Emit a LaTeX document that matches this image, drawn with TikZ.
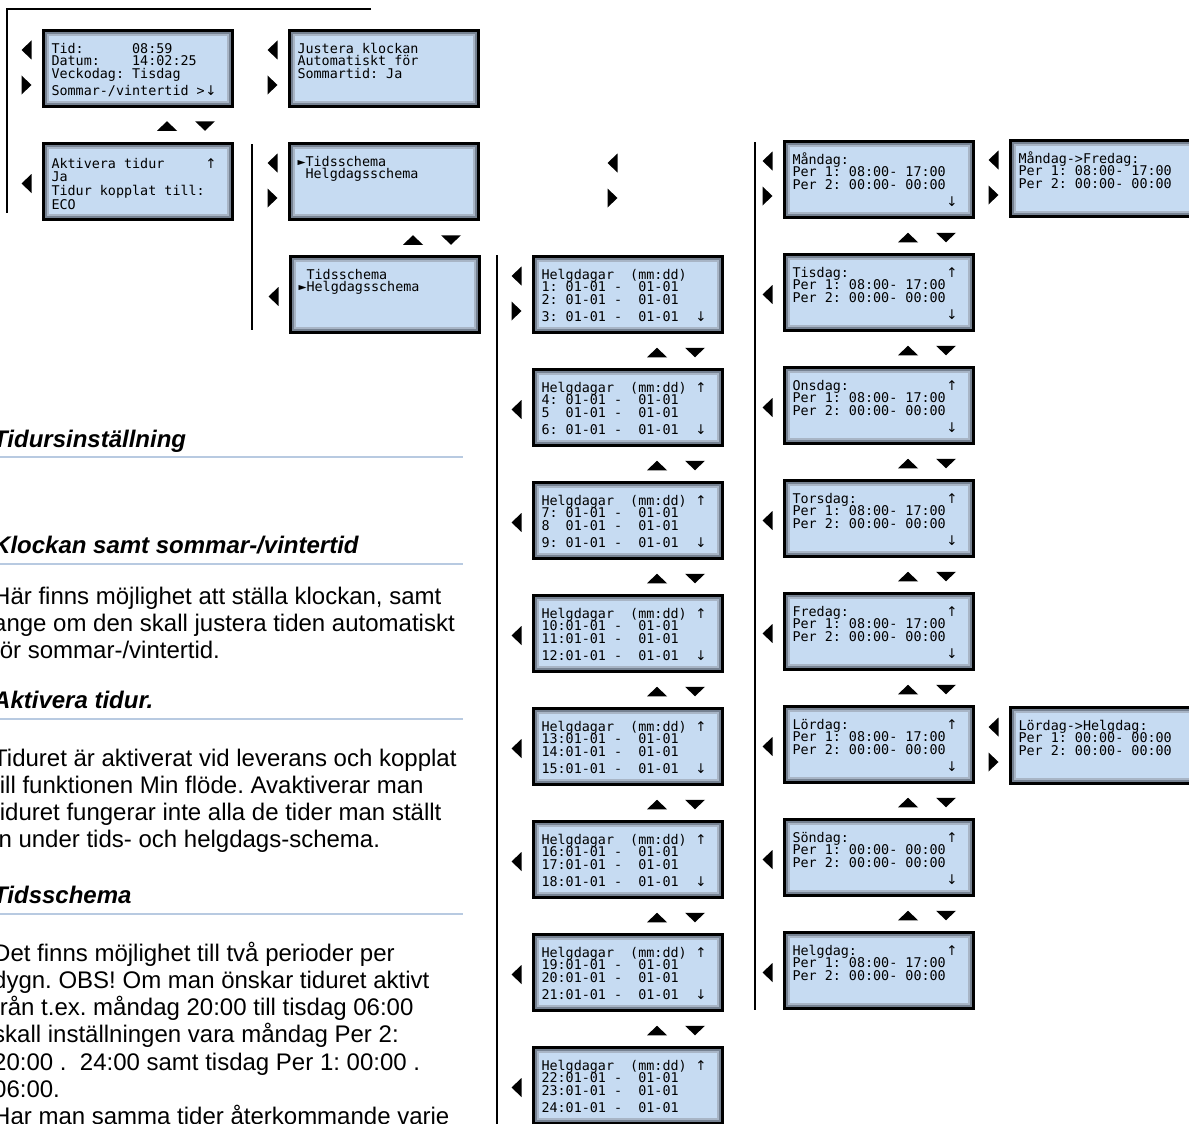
\documentclass[tikz,border=0pt]{standalone}
\usepackage{fontspec}
\setmainfont{Liberation Sans}
\newfontfamily\lcdfont{DejaVu Sans Mono}
\newfontfamily\lcdarrowfont{DejaVu Sans}
\usetikzlibrary{calc}
\definecolor{lcdfill}{RGB}{198,219,242}
\definecolor{lcdbevel}{RGB}{118,130,146}
\definecolor{lcdhi}{RGB}{168,181,198}
\definecolor{rulecol}{RGB}{184,202,225}
\tikzset{
  lcdbox/.style={shape=rectangle, draw=black, line width=3pt, fill=lcdbevel,
    minimum width=189pt, minimum height=76pt, inner sep=0pt, outer sep=0pt, anchor=north west},
  lcdtxt/.style={inner sep=0pt, outer sep=0pt, anchor=base west,
    font=\lcdfont\fontsize{13.4}{13.4}\selectfont},
  lcdarr/.style={inner sep=0pt, outer sep=0pt, anchor=base,
    font=\lcdarrowfont\fontsize{13.4}{13.4}\selectfont},
  navtri/.style={fill=black, draw=none},
  bracket/.style={draw=black, line width=1.5pt},
  heading/.style={anchor=base west, inner sep=0pt,
    font=\fontsize{24}{24}\selectfont\bfseries\itshape},
  body/.style={anchor=base west, inner sep=0pt,
    font=\fontsize{24}{24}\selectfont\frenchspacing},
  rulestyle/.style={draw=rulecol, line width=2pt}
}
\newcommand\lcdframe[3]{%
  \node[lcdbox] (#1) at (#2+1.5,#3+1.5) {};
  \fill[lcdhi] ($(#1.north west)+(3.5,3.5)$) rectangle ($(#1.south east)+(-3.5,-3.5)$);
  \fill[lcdfill] ($(#1.north west)+(5.5,5.5)$) rectangle ($(#1.south east)+(-5.5,-5.5)$);
}
\newcommand\lcdline[5]{\node[lcdtxt] (#1) at (#2+9.5,#3+#4) {#5};}
\newcommand\lcd[7]{%
  \lcdframe{#1}{#2}{#3}%
  \lcdline{#1-a}{#2}{#3}{24.4}{#4}%
  \lcdline{#1-b}{#2}{#3}{36.9}{#5}%
  \lcdline{#1-c}{#2}{#3}{49.4}{#6}%
  \lcdline{#1-d}{#2}{#3}{66.9}{#7}}
\newcommand\arrup[3]{\node[lcdarr] (#1-up) at (#2+169,#3+24.4) {↑};}
\newcommand\arrdn[3]{\node[lcdarr] (#1-dn) at (#2+169,#3+66.9) {↓};}
\newcommand\navL[2]{\fill[navtri] (#1-10.5,#2-9.5) -- (#1-10.5,#2+9.5) -- (#1-20.5,#2) -- cycle;}
\newcommand\navR[2]{\fill[navtri] (#1-20.5,#2-9.5) -- (#1-20.5,#2+9.5) -- (#1-10.5,#2) -- cycle;}
\newcommand\navpair[2]{\navL{#1}{#2+21}\navR{#1}{#2+56}}
\newcommand\navsingle[2]{\navL{#1}{#2+41.5}}
\newcommand\navUD[2]{%
  \fill[navtri] (#1+115,#2+4.75) -- (#1+135,#2+4.75) -- (#1+125,#2-4.75) -- cycle;
  \fill[navtri] (#1+153,#2-4.75) -- (#1+173,#2-4.75) -- (#1+163,#2+4.75) -- cycle;}
\newcommand\hdd{01-01~-~~01-01}
\newcommand\hdhead{Helgdagar~~(mm:dd)}
\begin{document}
\begin{tikzpicture}[x=1pt,y=-1pt]
\useasboundingbox (0,0) rectangle (1189,1124);
\clip (0,0) rectangle (1189,1124);
\fill[white] (0,0) rectangle (1189,1124);

% bracket lines
\coordinate (ba) at (371,9); \coordinate (bb) at (7,9); \coordinate (bc) at (7,213);
\draw[bracket] (ba) -- (bb) -- (bc);
\coordinate (ca) at (252,144); \coordinate (cb) at (252,330);
\draw[bracket] (ca) -- (cb);
\coordinate (da) at (497,255); \coordinate (db) at (497,1124);
\draw[bracket] (da) -- (db);
\coordinate (ea) at (755,142); \coordinate (eb) at (755,1010);
\draw[bracket] (ea) -- (eb);

% top-left screens
\lcd{tid}{42}{29}{Tid:~~~~~~08:59}{Datum:~~~~14:02:25}{Veckodag:~Tisdag}{Sommar-/vintertid~>}
\node[lcdarr] (tid-dn) at (42+169,29+66.9) {↓};
\navpair{42}{29}
\lcd{just}{288}{29}{Justera~klockan}{Automatiskt~för}{Sommartid:~Ja}{}
\navpair{288}{29}
\navUD{42}{126}
\lcdframe{akt}{42}{142}
\lcdline{akt-a}{42}{142}{26}{Aktivera~tidur}
\lcdline{akt-b}{42}{142}{39}{Ja}
\lcdline{akt-c}{42}{142}{53}{Tidur~kopplat~till:}
\lcdline{akt-d}{42}{142}{67}{ECO}
\node[lcdarr] (akt-up) at (42+169,142+26) {↑};
\navsingle{42}{142}
\lcd{m1}{288}{142}{►Tidsschema}{~Helgdagsschema}{}{}
\navpair{288}{142}
\navUD{288}{240}
\lcd{m2}{289}{255}{~Tidsschema}{►Helgdagsschema}{}{}
\navsingle{289}{255}

% loose arrows
\navpair{628}{142}

% holidays column
\lcd{h1}{532}{255}{\hdhead}{1:~\hdd}{2:~\hdd}{3:~\hdd}\arrdn{h1}{532}{255}
\navpair{532}{255}
\lcd{h2}{532}{368}{\hdhead}{4:~\hdd}{5~~\hdd}{6:~\hdd}\arrup{h2}{532}{368}\arrdn{h2}{532}{368}
\lcd{h3}{532}{481}{\hdhead}{7:~\hdd}{8~~\hdd}{9:~\hdd}\arrup{h3}{532}{481}\arrdn{h3}{532}{481}
\lcd{h4}{532}{594}{\hdhead}{10:\hdd}{11:\hdd}{12:\hdd}\arrup{h4}{532}{594}\arrdn{h4}{532}{594}
\lcd{h5}{532}{707}{\hdhead}{13:\hdd}{14:\hdd}{15:\hdd}\arrup{h5}{532}{707}\arrdn{h5}{532}{707}
\lcd{h6}{532}{820}{\hdhead}{16:\hdd}{17:\hdd}{18:\hdd}\arrup{h6}{532}{820}\arrdn{h6}{532}{820}
\lcd{h7}{532}{933}{\hdhead}{19:\hdd}{20:\hdd}{21:\hdd}\arrup{h7}{532}{933}\arrdn{h7}{532}{933}
\lcd{h8}{532}{1046}{\hdhead}{22:\hdd}{23:\hdd}{24:\hdd}\arrup{h8}{532}{1046}
\foreach \k in {1,...,7}{\navsingle{532}{255+113*\k}}
\foreach \k in {0,...,6}{\navUD{532}{352.5+113*\k}}

% days column
\lcd{d1}{783}{140}{Måndag:}{Per~1:~08:00-~17:00}{Per~2:~00:00-~00:00}{}\arrdn{d1}{783}{140}
\navpair{783}{140}
\lcd{d2}{783}{253}{Tisdag:}{Per~1:~08:00-~17:00}{Per~2:~00:00-~00:00}{}\arrup{d2}{783}{253}\arrdn{d2}{783}{253}
\lcd{d3}{783}{366}{Onsdag:}{Per~1:~08:00-~17:00}{Per~2:~00:00-~00:00}{}\arrup{d3}{783}{366}\arrdn{d3}{783}{366}
\lcd{d4}{783}{479}{Torsdag:}{Per~1:~08:00-~17:00}{Per~2:~00:00-~00:00}{}\arrup{d4}{783}{479}\arrdn{d4}{783}{479}
\lcd{d5}{783}{592}{Fredag:}{Per~1:~08:00-~17:00}{Per~2:~00:00-~00:00}{}\arrup{d5}{783}{592}\arrdn{d5}{783}{592}
\lcd{d6}{783}{705}{Lördag:}{Per~1:~08:00-~17:00}{Per~2:~00:00-~00:00}{}\arrup{d6}{783}{705}\arrdn{d6}{783}{705}
\lcd{d7}{783}{818}{Söndag:}{Per~1:~00:00-~00:00}{Per~2:~00:00-~00:00}{}\arrup{d7}{783}{818}\arrdn{d7}{783}{818}
\lcd{d8}{783}{931}{Helgdag:}{Per~1:~08:00-~17:00}{Per~2:~00:00-~00:00}{}\arrup{d8}{783}{931}
\foreach \k in {1,...,7}{\navsingle{783}{140+113*\k}}
\foreach \k in {0,...,6}{\navUD{783}{237.5+113*\k}}

% right column
\lcd{mf}{1009}{139}{Måndag->Fredag:}{Per~1:~08:00-~17:00}{Per~2:~00:00-~00:00}{}
\navpair{1009}{139}
\lcd{lh}{1009}{706}{Lördag->Helgdag:}{Per~1:~00:00-~00:00}{Per~2:~00:00-~00:00}{}
\navpair{1009}{706}

% text column
\node[heading] (t1) at (-7,447) {Tidursinställning};
\draw[rulestyle] (-7,457) -- (463,457);
\node[heading] (t2) at (-7,553) {Klockan samt sommar-/vintertid};
\draw[rulestyle] (-7,564) -- (463,564);
\node[body] (p1a) at (-7,604) {Här finns möjlighet att ställa klockan, samt};
\node[body] (p1b) at (-7,631.3) {ange om den skall justera tiden automatiskt};
\node[body] (p1c) at (-7,658.6) {för sommar-/vintertid.};
\node[heading] (t3) at (-7,708) {Aktivera tidur.};
\draw[rulestyle] (-7,719) -- (463,719);
\node[body] (p2a) at (-7,766) {Tiduret är aktiverat vid leverans och kopplat};
\node[body] (p2b) at (-7,793.3) {till funktionen Min flöde. Avaktiverar man};
\node[body] (p2c) at (-7,820.6) {tiduret fungerar inte alla de tider man ställt};
\node[body] (p2d) at (-7,847.9) {in under tids- och helgdags-schema.};
\node[heading] (t4) at (-7,903) {Tidsschema};
\draw[rulestyle] (-7,914) -- (463,914);
\node[body] (p3a) at (-7,961) {Det finns möjlighet till två perioder per};
\node[body] (p3b) at (-7,988.3) {dygn. OBS! Om man önskar tiduret aktivt};
\node[body] (p3c) at (-7,1015.6) {från t.ex. måndag 20:00 till tisdag 06:00};
\node[body] (p3d) at (-7,1042.9) {skall inställningen vara måndag Per 2:};
\node[body] (p3e) at (-7,1070.2) {20:00 .~ 24:00 samt tisdag Per 1: 00:00 .};
\node[body] (p3f) at (-7,1097.5) {06:00.};
\node[body] (p3g) at (-7,1124.8) {Har man samma tider återkommande varje};
\end{tikzpicture}
\end{document}
